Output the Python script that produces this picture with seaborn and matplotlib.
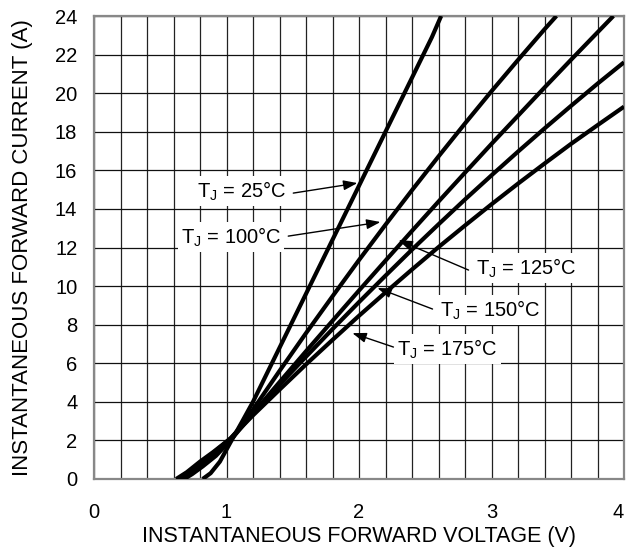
import matplotlib
matplotlib.use('Agg')
import matplotlib.pyplot as plt
import pandas as pd
import seaborn as sns
from matplotlib.ticker import MultipleLocator

# ---- data (forward voltage V, forward current A) ----
v_25 = [0.82, 0.88, 0.95, 1.03, 1.12, 1.20, 1.35, 1.50, 1.65, 1.80, 1.95, 2.10, 2.25, 2.40, 2.55, 2.62]
i_25 = [0.0, 0.3, 0.9, 1.9, 3.0, 4.0, 6.1, 8.2, 10.3, 12.4, 14.5, 16.6, 18.7, 20.8, 22.9, 24.0]

v_100 = [0.68, 0.74, 0.82, 0.92, 1.03, 1.20, 1.40, 1.60, 1.80, 2.00, 2.20, 2.40, 2.60, 2.80, 3.00, 3.20, 3.40, 3.49]
i_100 = [0.0, 0.25, 0.65, 1.2, 2.0, 3.6, 5.6, 7.56, 9.47, 11.35, 13.18, 14.97, 16.72, 18.43, 20.1, 21.72, 23.31, 24.0]

v_125 = [0.66, 0.72, 0.80, 0.90, 1.03, 1.20, 1.40, 1.60, 1.80, 2.00, 2.20, 2.40, 2.60, 2.80, 3.00, 3.20, 3.40, 3.60, 3.80, 3.92]
i_125 = [0.0, 0.25, 0.7, 1.2, 2.0, 3.4, 5.02, 6.62, 8.2, 9.77, 11.32, 12.86, 14.38, 15.88, 17.37, 18.83, 20.29, 21.73, 23.15, 24.0]

v_150 = [0.64, 0.70, 0.80, 0.90, 1.03, 1.20, 1.40, 1.60, 1.80, 2.00, 2.20, 2.40, 2.60, 2.80, 3.00, 3.20, 3.40, 3.60, 3.80, 4.00]
i_150 = [0.0, 0.25, 0.8, 1.35, 2.1, 3.4, 4.89, 6.34, 7.77, 9.17, 10.54, 11.89, 13.2, 14.49, 15.74, 16.97, 18.17, 19.34, 20.49, 21.6]

v_175 = [0.62, 0.70, 0.80, 0.90, 1.03, 1.20, 1.40, 1.60, 1.80, 2.00, 2.20, 2.40, 2.60, 2.80, 3.00, 3.20, 3.40, 3.60, 3.80, 4.00]
i_175 = [0.0, 0.35, 0.9, 1.4, 2.1, 3.3, 4.63, 5.94, 7.21, 8.46, 9.67, 10.86, 12.02, 13.14, 14.24, 15.31, 16.35, 17.37, 18.34, 19.3]

temps = ['25', '100', '125', '150', '175']
x_ticks = [0, 1, 2, 3, 4]
y_ticks = [0, 2, 4, 6, 8, 10, 12, 14, 16, 18, 20, 22, 24]
x_label = 'INSTANTANEOUS FORWARD VOLTAGE (V)'
y_label = 'INSTANTANEOUS FORWARD CURRENT (A)'

# label layout: (text centre V, I), (arrow start V, I), (arrow tip V, I)
label_layout = {
    '25':  ((1.115, 14.92), (1.504, 14.82), (1.988, 15.34)),
    '100': ((1.036, 12.54), (1.466, 12.59), (2.162, 13.32)),
    '125': ((3.265, 10.93), (2.827, 10.83), (2.298, 12.38)),
    '150': ((2.993, 8.76), (2.555, 8.81), (2.139, 9.90)),
    '175': ((2.668, 6.74), (2.260, 6.84), (1.950, 7.56)),
}

sns.set_theme(style='white')
plt.rcParams['font.family'] = ['Liberation Sans', 'DejaVu Sans']
plt.rcParams['mathtext.fontset'] = 'custom'
plt.rcParams['mathtext.rm'] = 'Liberation Sans'
plt.rcParams['mathtext.it'] = 'Liberation Sans'

series = {'25': (v_25, i_25), '100': (v_100, i_100), '125': (v_125, i_125),
          '150': (v_150, i_150), '175': (v_175, i_175)}
df = pd.concat([pd.DataFrame({'V': v, 'I': i, 'T': t}) for t, (v, i) in series.items()],
               ignore_index=True)

fig = plt.figure(figsize=(6.26, 5.5), dpi=100)
ax = fig.add_axes([94 / 626, 1 - 479 / 550, (624 - 94) / 626, (479 - 16) / 550])

sns.lineplot(data=df, x='V', y='I', hue='T', hue_order=temps, units='T', estimator=None,
             sort=False, palette=['black'] * len(temps), linewidth=3.0, legend=False, ax=ax,
             zorder=3)
for ln in ax.lines:
    ln.set_solid_capstyle('butt')
    ln.set_solid_joinstyle('round')

ax.set_xlim(0, 4)
ax.set_ylim(0, 24)
ax.set_xticks(x_ticks)
ax.set_yticks(y_ticks)
ax.xaxis.set_minor_locator(MultipleLocator(0.2))
ax.set_axisbelow(True)
ax.grid(which='both', axis='x', color='#222222', linewidth=0.9)
ax.grid(which='major', axis='y', color='#111111', linewidth=0.9)
ax.tick_params(axis='both', which='both', length=0, labelsize=14.5, colors='black')
ax.tick_params(axis='x', pad=17)
ax.tick_params(axis='y', pad=12)
ax.get_xticklabels()[-1].set_horizontalalignment('right')
for s in ax.spines.values():
    s.set_color('#888888')
    s.set_linewidth(1.6)

ax.set_xlabel(x_label, fontsize=15.5, labelpad=3, color='black')
ax.set_ylabel(y_label, fontsize=16, labelpad=16, color='black')

for t in temps:
    (tx, ty), (sx, sy), (hx, hy) = label_layout[t]
    ax.text(tx, ty, r'T$_{\mathregular{J}}$ = ' + t + '°C', ha='center', va='center',
            fontsize=14.5, color='black', zorder=4,
            bbox=dict(boxstyle='square,pad=0.15', facecolor='white', edgecolor='none'))
    ax.annotate('', xy=(hx, hy), xytext=(sx, sy), zorder=4,
                arrowprops=dict(arrowstyle='-|>,head_length=0.7,head_width=0.25',
                                color='black', lw=1.0, shrinkA=0, shrinkB=0))

fig.savefig('out.png', dpi=100)
